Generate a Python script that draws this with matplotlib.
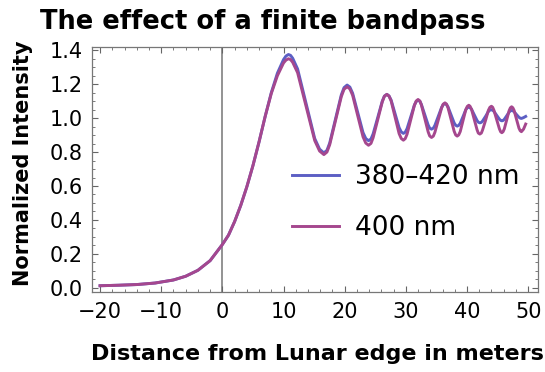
import numpy as np
import matplotlib
matplotlib.use('Agg')
import matplotlib.pyplot as plt
from matplotlib.ticker import MultipleLocator

# Distance from the lunar edge (m)
distance = [-20, -17, -14, -11, -8, -6, -4, -2, 0, 1, 2, 3, 4, 5, 6, 7, 8, 9, 10,
            10.4, 10.8, 11.15, 11.5, 12.3, 13.7, 15.1, 15.9, 16.6,
            17.1, 17.55, 18.5, 19.45, 19.9, 20.4,
            20.85, 21.3, 22.15, 23.0, 23.45, 23.9,
            24.3, 24.65, 25.4, 26.15, 26.5, 26.9,
            27.25, 27.6, 28.25, 28.9, 29.25, 29.6,
            29.9, 30.2, 30.8, 31.4, 31.7, 32.0,
            32.3, 32.55, 33.1, 33.65, 33.9, 34.2,
            34.5, 34.75, 35.3, 35.85, 36.1, 36.4,
            36.65, 36.9, 37.4, 37.9, 38.15, 38.4,
            38.65, 38.9, 39.35, 39.8, 40.05, 40.3,
            40.5, 40.75, 41.2, 41.65, 41.85, 42.1,
            42.35, 42.55, 43.05, 43.5, 43.75, 44.0,
            44.2, 44.4, 44.85, 45.3, 45.5, 45.7,
            45.9, 46.1, 46.5, 46.9, 47.1, 47.3,
            47.5, 47.7, 48.1, 48.5, 48.7, 48.9,
            49.25, 49.6]

# 380-420 nm band
band = [0.012, 0.015, 0.019, 0.028, 0.046, 0.068, 0.103, 0.16, 0.255, 0.31, 0.39, 0.485, 0.595, 0.72, 0.86, 1.01, 1.15, 1.265, 1.345,
        1.366, 1.375, 1.370, 1.353, 1.290, 1.085, 0.880, 0.817, 0.795,
        0.810, 0.853, 0.995, 1.137, 1.180, 1.195,
        1.183, 1.147, 1.031, 0.915, 0.880, 0.867,
        0.877, 0.907, 1.003, 1.100, 1.130, 1.140,
        1.131, 1.106, 1.025, 0.944, 0.919, 0.910,
        0.917, 0.938, 1.007, 1.077, 1.098, 1.105,
        1.099, 1.080, 1.020, 0.960, 0.941, 0.935,
        0.941, 0.957, 1.010, 1.063, 1.079, 1.085,
        1.080, 1.066, 1.019, 0.972, 0.958, 0.953,
        0.957, 0.970, 1.009, 1.049, 1.062, 1.066,
        1.062, 1.052, 1.019, 0.986, 0.976, 0.972,
        0.975, 0.983, 1.011, 1.039, 1.047, 1.050,
        1.047, 1.040, 1.017, 0.994, 0.987, 0.984,
        0.986, 0.993, 1.014, 1.036, 1.043, 1.045,
        1.043, 1.038, 1.021, 1.005, 1.000, 0.998,
        1.003, 1.010]

# 400 nm monochromatic
mono = [0.012, 0.015, 0.019, 0.028, 0.046, 0.068, 0.103, 0.16, 0.255, 0.31, 0.39, 0.485, 0.595, 0.72, 0.86, 1.01, 1.145, 1.25, 1.325,
        1.342, 1.350, 1.345, 1.329, 1.268, 1.068, 0.868, 0.806, 0.785,
        0.800, 0.843, 0.985, 1.127, 1.170, 1.185,
        1.172, 1.135, 1.012, 0.890, 0.853, 0.840,
        0.851, 0.884, 0.990, 1.096, 1.129, 1.140,
        1.130, 1.101, 1.005, 0.909, 0.880, 0.870,
        0.879, 0.905, 0.990, 1.075, 1.101, 1.110,
        1.101, 1.077, 0.998, 0.919, 0.895, 0.886,
        0.894, 0.916, 0.988, 1.060, 1.082, 1.090,
        1.083, 1.061, 0.992, 0.923, 0.901, 0.894,
        0.901, 0.921, 0.985, 1.049, 1.069, 1.076,
        1.070, 1.051, 0.991, 0.931, 0.912, 0.906,
        0.912, 0.930, 0.988, 1.046, 1.064, 1.070,
        1.064, 1.047, 0.992, 0.937, 0.920, 0.914,
        0.920, 0.936, 0.990, 1.045, 1.061, 1.067,
        1.061, 1.046, 0.993, 0.941, 0.926, 0.920,
        0.935, 0.965]

labels = ['380\u2013420 nm', '400 nm']

fig = plt.figure(figsize=(5.45, 3.72), dpi=100)
ax = fig.add_axes([0.169, 0.215, 0.818, 0.659])

ax.axvline(0, color='#808080', lw=1.2, zorder=1)
ax.plot(distance, band, color='#5c5fc4', lw=2.1, label=labels[0], zorder=2)
ax.plot(distance, mono, color='#a5478e', lw=2.1, label=labels[1], zorder=3)

ax.set_xlim(-21.3, 51.6)
ax.set_ylim(-0.025, 1.42)
ax.xaxis.set_minor_locator(MultipleLocator(2))
ax.yaxis.set_minor_locator(MultipleLocator(0.05))
ax.set_yticks(np.arange(0, 1.41, 0.2))
ax.set_yticklabels(['%.1f' % v for v in np.arange(0, 1.41, 0.2)])
ax.set_xticks(np.arange(-20, 51, 10))
ax.set_xticklabels([str(v).replace('-', '\u2212') for v in range(-20, 51, 10)])

ax.tick_params(which='both', direction='in', top=True, right=True, color='#666666')
ax.tick_params(which='major', length=4, width=0.8, labelsize=15, pad=7)
ax.tick_params(which='minor', length=2.5, width=0.6)
for s in ax.spines.values():
    s.set_color('#777777')
    s.set_linewidth(0.9)

leg = ax.legend(loc='center left', bbox_to_anchor=(0.448, 0.366), frameon=False,
                fontsize=19, handlelength=1.8, handletextpad=0.6,
                labelspacing=0.95, borderpad=0, borderaxespad=0)
for line in leg.get_lines():
    line.set_linewidth(2.1)

fig.text(0.483, 0.94, 'The effect of a finite bandpass', ha='center', va='center',
         fontsize=18.5, fontweight='bold')
fig.text(0.582, 0.048, 'Distance from Lunar edge in meters', ha='center', va='center',
         fontsize=16, fontweight='bold')
fig.text(0.042, 0.56, 'Normalized Intensity', ha='center', va='center',
         rotation=90, fontsize=15, fontweight='bold')

fig.savefig('out.png', dpi=100)
